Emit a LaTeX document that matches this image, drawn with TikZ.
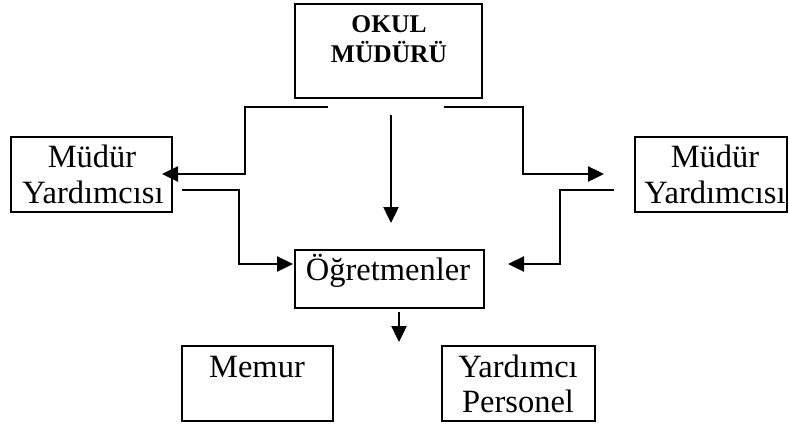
\documentclass[tikz,border=0pt]{standalone}
\usepackage{fontspec}
\setmainfont{Liberation Serif}
\usetikzlibrary{arrows.meta}
\begin{document}
\begin{tikzpicture}[x=1pt,y=-1pt,
  box/.style={draw=black,line width=2.2pt,inner sep=0pt,outer sep=0pt,rectangle},
  lbl/.style={anchor=base,inner sep=0pt,font=\fontsize{32.5}{36}\selectfont},
  blbl/.style={anchor=base,inner sep=0pt,font=\fontsize{25.5}{30}\selectfont\bfseries},
  arr/.style={line width=2.4pt,-{Triangle[length=16pt,width=15pt]}}]
\useasboundingbox (0,0) rectangle (789,424);
% boxes
\node[box,minimum width=187pt,minimum height=94pt] (okul) at (388.5,51) {};
\node[box,minimum width=161pt,minimum height=75pt] (lmy) at (91.5,174.5) {};
\node[box,minimum width=152pt,minimum height=75pt] (rmy) at (711,174.5) {};
\node[box,minimum width=189pt,minimum height=58pt] (ogr) at (389.5,279) {};
\node[box,minimum width=151pt,minimum height=75pt] (memur) at (257.5,383.5) {};
\node[box,minimum width=153pt,minimum height=75pt] (yp) at (518.5,383.5) {};
% labels
\node[blbl] (t1) at (389,32) {OKUL};
\node[blbl] (t2) at (389,62) {MÜDÜRÜ};
\node[lbl] (t3) at (92,167) {Müdür};
\node[lbl] (t4) at (93,203) {Yardımcısı};
\node[lbl] (t5) at (715,167) {Müdür};
\node[lbl] (t6) at (715,203) {Yardımcısı};
\node[lbl] (t7) at (388,280) {Öğretmenler};
\node[lbl] (t8) at (257,377) {Memur};
\node[lbl] (t9) at (518,377) {Yardımcı};
\node[lbl] (t10) at (518,412) {Personel};
% connector points
\coordinate (a1s) at (328,107);
\coordinate (a1e) at (162,174);
\coordinate (a2s) at (391,115);
\coordinate (a2e) at (391,223);
\coordinate (a3s) at (444,107);
\coordinate (a3e) at (604,174);
\coordinate (a4s) at (182,190);
\coordinate (a4e) at (293,264);
\coordinate (a5s) at (614,190);
\coordinate (a5e) at (508,264);
\coordinate (a6s) at (399,312);
\coordinate (a6e) at (399,342);
% connectors
\draw[arr] (a1s) -- (245,107) -- (245,174) -- (a1e);
\draw[arr] (a2s) -- (a2e);
\draw[arr] (a3s) -- (523,107) -- (523,174) -- (a3e);
\draw[arr] (a4s) -- (239,190) -- (239,264) -- (a4e);
\draw[arr] (a5s) -- (560,190) -- (560,264) -- (a5e);
\draw[arr] (a6s) -- (a6e);
\end{tikzpicture}
\end{document}
